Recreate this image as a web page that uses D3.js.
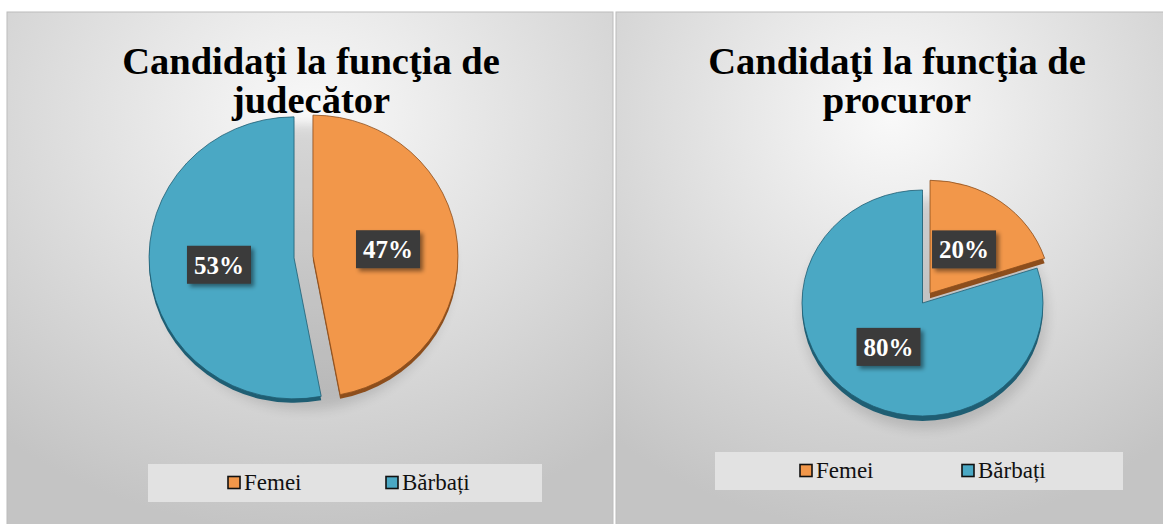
<!DOCTYPE html>
<html>
<head>
<meta charset="utf-8">
<script src="https://cdn.jsdelivr.net/npm/d3@7"></script>
<style>
  html, body { margin: 0; padding: 0; background: #fff; }
  svg { display: block; }
  svg text { font-family: "Liberation Serif", "Times New Roman", Tinos, "DejaVu Serif", serif; }
</style>
</head>
<body>
<svg id="chart" width="1163" height="524"></svg>
<script>
// date
const categories = ["Femei", "Bărbați"]
const judecatorValues = [47, 53]
const procurorValues = [20, 80]
const titleJudecator = ["Candidaţi la funcţia de", "judecător"]
const titleProcuror = ["Candidaţi la funcţia de", "procuror"]

const colors = ["#f2974a", "#4aa8c4"]
const darkColors = ["#8d4e1c", "#1f5e73"]

const svg = d3.select("#chart")
const defs = svg.append("defs")

let bg = defs.append("radialGradient")
  .attr("id", "panelBg")
  .attr("cx", "50%").attr("cy", "20%").attr("r", "80%")
bg.append("stop").attr("offset", "0%").attr("stop-color", "#f9f9f9")
bg.append("stop").attr("offset", "100%").attr("stop-color", "#c4c4c4")

let shadow = defs.append("filter").attr("id", "pieShadow")
  .attr("x", "-20%").attr("y", "-20%").attr("width", "140%").attr("height", "140%")
shadow.append("feGaussianBlur").attr("stdDeviation", 6)

let boxShadow = defs.append("filter").attr("id", "boxShadow")
  .attr("x", "-30%").attr("y", "-30%").attr("width", "170%").attr("height", "170%")
boxShadow.append("feDropShadow").attr("dx", 3).attr("dy", 3).attr("stdDeviation", 2)
  .attr("flood-color", "#000").attr("flood-opacity", 0.45)

function drawPanel(opt) {
  const g = svg.append("g")

  g.append("rect")
    .attr("x", opt.x).attr("y", opt.y)
    .attr("width", opt.w).attr("height", opt.h)
    .attr("fill", "url(#panelBg)")
    .attr("stroke", "#bcbcbc").attr("stroke-width", 1)

  // titlu
  g.append("text")
    .attr("text-anchor", "middle")
    .attr("font-weight", "bold")
    .attr("font-size", 38.5)
    .attr("fill", "#000")
    .selectAll("tspan")
    .data(opt.title)
    .join("tspan")
    .attr("x", opt.titleX)
    .attr("y", (d, i) => opt.titleY + i * 39)
    .text(d => d)

  const pie = d3.pie().sort(null).value(d => d)
  const arcData = pie(opt.values)
  const arc = d3.arc().innerRadius(0).outerRadius(opt.r)
  const sy = opt.ry / opt.r

  const off = (d, i) => {
    const a = (d.startAngle + d.endAngle) / 2
    const e = opt.explode[i]
    return [Math.sin(a) * e, -Math.cos(a) * e * sy]
  }

  // umbra
  g.append("ellipse")
    .attr("cx", opt.cx + 2).attr("cy", opt.cy + opt.depth + 6)
    .attr("rx", opt.r + 2).attr("ry", opt.ry + 2)
    .attr("fill", "#000").attr("opacity", 0.13)
    .attr("filter", "url(#pieShadow)")

  // partea laterala (3D)
  g.append("g")
    .attr("transform", `translate(${opt.cx},${opt.cy + opt.depth}) scale(1,${sy})`)
    .selectAll("path")
    .data(arcData)
    .join("path")
    .attr("transform", (d, i) => { const o = off(d, i); return `translate(${o[0]},${o[1] / sy})` })
    .attr("d", arc)
    .attr("fill", (d, i) => darkColors[i])

  g.append("g")
    .attr("transform", `translate(${opt.cx},${opt.cy}) scale(1,${sy})`)
    .selectAll("path")
    .data(arcData)
    .join("path")
    .attr("transform", (d, i) => { const o = off(d, i); return `translate(${o[0]},${o[1] / sy})` })
    .attr("d", arc)
    .attr("fill", (d, i) => colors[i])
    .attr("stroke", (d, i) => darkColors[i])
    .attr("stroke-width", 0.8)
    .attr("vector-effect", "non-scaling-stroke")

  // etichete
  const labelArc = d3.arc().innerRadius(0).outerRadius(opt.r * opt.labelR)
  const labels = g.append("g")
    .selectAll("g")
    .data(arcData)
    .join("g")
    .attr("transform", (d, i) => {
      const c = labelArc.centroid(d)
      const o = off(d, i)
      return `translate(${opt.cx + c[0] * 2 + o[0]},${opt.cy + c[1] * 2 * sy + o[1]})`
    })
  labels.append("rect")
    .attr("x", -32).attr("y", -19)
    .attr("width", 64).attr("height", 38)
    .attr("fill", "#3a3a3a")
    .attr("filter", "url(#boxShadow)")
  labels.append("text")
    .attr("text-anchor", "middle")
    .attr("dy", "0.35em")
    .attr("font-weight", "bold")
    .attr("font-size", 25)
    .attr("fill", "#fff")
    .text(d => d.data + "%")

  // legenda
  g.append("rect")
    .attr("x", opt.legX).attr("y", opt.legY)
    .attr("width", opt.legW).attr("height", opt.legH)
    .attr("fill", "#e2e2e2")
  const items = g.append("g")
    .selectAll("g")
    .data(categories)
    .join("g")
    .attr("transform", (d, i) => `translate(${opt.legItems[i]},${opt.legY + opt.legH / 2})`)
  items.append("rect")
    .attr("x", 0).attr("y", -6.5)
    .attr("width", 12).attr("height", 12)
    .attr("fill", (d, i) => colors[i])
    .attr("stroke", "#111").attr("stroke-width", 1.6)
  items.append("text")
    .attr("x", 16).attr("dy", "0.32em")
    .attr("font-size", 23)
    .attr("fill", "#111")
    .text(d => d)
}

drawPanel({
  x: 7, y: 12, w: 606, h: 520,
  title: titleJudecator, titleX: 311, titleY: 74,
  values: judecatorValues,
  cx: 303.5, cy: 257, r: 145, ry: 141, depth: 4,
  explode: [9.5, 9.5], labelR: 0.52,
  legX: 148, legY: 464, legW: 394, legH: 38, legItems: [228, 386]
})

drawPanel({
  x: 616, y: 12, w: 550, h: 520,
  title: titleProcuror, titleX: 897, titleY: 74,
  values: procurorValues,
  cx: 922.5, cy: 303, r: 120.5, ry: 113, depth: 5,
  explode: [12.8, 0], labelR: 0.48,
  legX: 715, legY: 452, legW: 408, legH: 38, legItems: [800, 962]
})
</script>
</body>
</html>
